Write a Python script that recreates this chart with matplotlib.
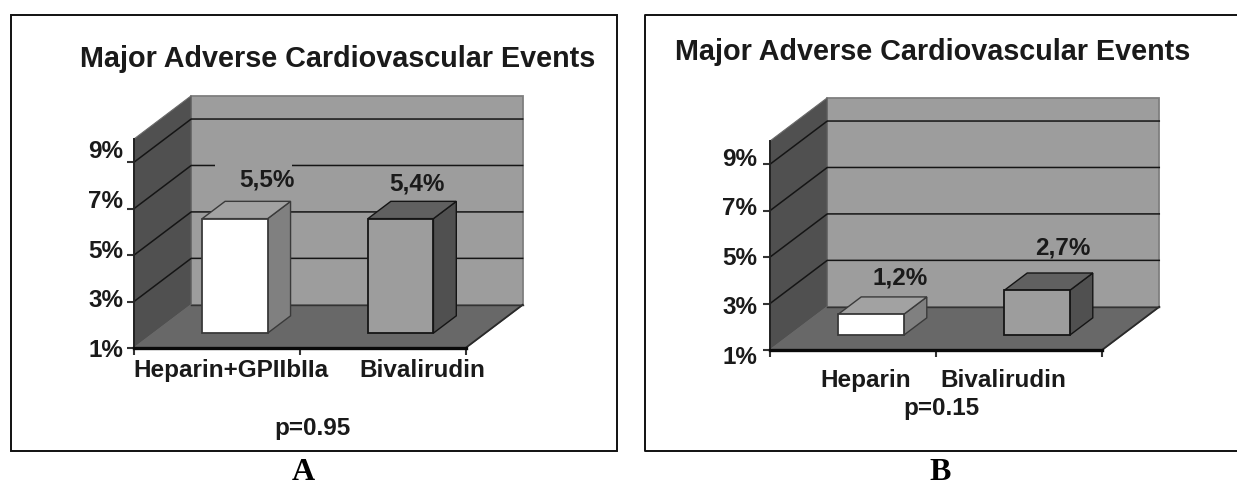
import matplotlib
matplotlib.use('Agg')
from matplotlib import pyplot as plt
from matplotlib.patches import Rectangle

plt.rcParams['font.family'] = ['Liberation Sans', 'DejaVu Sans']

title = 'Major Adverse Cardiovascular Events'
y_ticks = [1, 3, 5, 7, 9]
y_tick_labels = ['1%', '3%', '5%', '7%', '9%']

# panel A
a_heights = [5.93, 5.93]
a_value_labels = ['5,5%', '5,4%']
a_categories = ['Heparin+GPIIbIIa', 'Bivalirudin']
a_p = 'p=0.95'

# panel B
b_heights = [1.9, 2.93]
b_value_labels = ['1,2%', '2,7%']
b_categories = ['Heparin', 'Bivalirudin']
b_p = 'p=0.15'

W, H = 1237, 488
WALL = '#9d9d9d'
SIDE = '#505050'
FLOOR = '#686868'
TEXT = '#1a1a1a'

# depth of the fake 3d box, fraction of depth -> data units
DEPTH_X = 0.345
DEPTH_Y = 1.86
BAR_X = [0.49, 1.49]
BAR_W = 0.395
D0, D1 = 0.345, 0.745


def proj(x, y, d):
    return x + d * DEPTH_X, y + d * DEPTH_Y


def poly(ax, pts, color, edge=None, lw=1.0, z=1):
    xs = [p[0] for p in pts]
    ys = [p[1] for p in pts]
    ax.fill(xs, ys, facecolor=color, edgecolor=edge if edge else color, lw=lw,
            clip_on=False, zorder=z)


def bar3d(ax, center, top, front, roof, side, edge):
    x = center - BAR_W / 2
    x1 = x + BAR_W
    poly(ax, [proj(x1, 1, D0), proj(x1, 1, D1), proj(x1, top, D1), proj(x1, top, D0)], side, edge, 1.0, 3)
    poly(ax, [proj(x, top, D0), proj(x1, top, D0), proj(x1, top, D1), proj(x, top, D1)], roof, edge, 1.0, 3)
    poly(ax, [proj(x, 1, D0), proj(x1, 1, D0), proj(x1, top, D0), proj(x, top, D0)], front, edge, 1.3, 3)


def chart(left, right, bottom, top, heights):
    ax = fig.add_axes([left / W, 1 - bottom / H, (right - left) / W, (bottom - top) / H])
    ax.patch.set_visible(False)
    ax.set_xlim(0, 2)
    ax.set_ylim(1, 10)

    # back wall, side wall, floor
    poly(ax, [proj(0, 1, 1), proj(2, 1, 1), proj(2, 10, 1), proj(0, 10, 1)], WALL, '#7f7f7f', 1.3)
    poly(ax, [proj(0, 1, 0), proj(0, 1, 1), proj(0, 10, 1), proj(0, 10, 0)], SIDE, '#6a6a6a', 0.8)
    poly(ax, [proj(0, 1, 0), proj(2, 1, 0), proj(2, 1, 1), proj(0, 1, 1)], FLOOR)
    ax.plot(*zip(proj(2, 1, 0), proj(2, 1, 1)), color='#2a2a2a', lw=1.3, clip_on=False)
    ax.plot(*zip(proj(0, 1, 1), proj(2, 1, 1)), color='#333333', lw=1.0, clip_on=False)

    for v in y_ticks[1:]:
        ax.plot(*zip(proj(0, v, 0), proj(0, v, 1), proj(2, v, 1)), color='#151515', lw=1.1,
                clip_on=False)

    ax.set_xticks([0, 1, 2])
    ax.set_yticks(y_ticks)
    ax.tick_params(labelbottom=False, labelleft=False, length=5, width=1.5, color='#333333')
    for s in ['top', 'right']:
        ax.spines[s].set_visible(False)
    ax.spines['bottom'].set_linewidth(2.4)
    ax.spines['bottom'].set_color('#0a0a0a')
    ax.spines['left'].set_linewidth(1.4)
    ax.spines['left'].set_color('#222222')
    return ax


fig = plt.figure(figsize=(W / 100, H / 100), dpi=100, facecolor='white')

# overlay in pixels for the frames and loose text boxes of the original
bg = fig.add_axes([0, 0, 1, 1])
bg.set_xlim(0, W)
bg.set_ylim(H, 0)
bg.axis('off')
bg.add_patch(Rectangle((10.5, 15), 606.5, 436, fill=False, ec='#111111', lw=1.4))
bg.plot([1237, 645, 645, 1237], [15, 15, 451, 451], color='#111111', lw=1.4)

ax_a = chart(134, 465.5, 348, 139, a_heights)
bar3d(ax_a, BAR_X[0], a_heights[0], 'white', '#a2a2a2', '#808080', '#3a3a3a')
bar3d(ax_a, BAR_X[1], a_heights[1], WALL, '#606060', SIDE, '#151515')
# the 5,5% text box hides part of the gridline behind it
ax_a.add_patch(Rectangle((0.49, 8.5), 0.465, 0.7, facecolor=WALL, edgecolor='none', zorder=2.5))

ax_b = chart(770, 1102, 350, 141, b_heights)
bar3d(ax_b, BAR_X[0], b_heights[0], 'white', '#a2a2a2', '#808080', '#3a3a3a')
bar3d(ax_b, BAR_X[1], b_heights[1], WALL, '#606060', SIDE, '#151515')

# top overlay for the text
tx = fig.add_axes([0, 0, 1, 1])
tx.set_xlim(0, W)
tx.set_ylim(H, 0)
tx.axis('off')


def label(x, y, s, size=17.5, ha='center'):
    tx.text(x, y + 1.5, s, fontsize=size, fontweight='bold', color=TEXT, ha=ha, va='center')


tx.text(80, 67, title, fontsize=20.7, fontweight='bold', color=TEXT, ha='left', va='baseline')
tx.text(675, 60, title, fontsize=20.7, fontweight='bold', color=TEXT, ha='left', va='baseline')

for s, y in zip(y_tick_labels, [349, 299, 250, 200, 150]):
    label(123, y, s, 17.5, 'right')
for s, y in zip(y_tick_labels, [356, 306, 257, 207, 158]):
    label(757, y, s, 17.5, 'right')

for s, x, y in zip(a_value_labels, [267, 417], [178, 182]):
    label(x, y, s, 17.5)
for s, x, y in zip(b_value_labels, [900, 1063], [276, 247]):
    label(x, y, s, 17.5)

for s, x in zip(a_categories, [231, 422]):
    label(x, 369, s, 17.5)
for s, x in zip(b_categories, [866, 1003.5]):
    label(x, 379, s, 17.5)
label(312, 427, a_p, 17.5)
label(941.5, 407, b_p, 17.5)

tx.text(303, 487, 'A', fontsize=23, fontweight='bold', family='Liberation Serif', color='black',
        ha='center', va='bottom')
tx.text(940, 487, 'B', fontsize=23, fontweight='bold', family='Liberation Serif', color='black',
        ha='center', va='bottom')

plt.savefig('out.png', dpi=100)
